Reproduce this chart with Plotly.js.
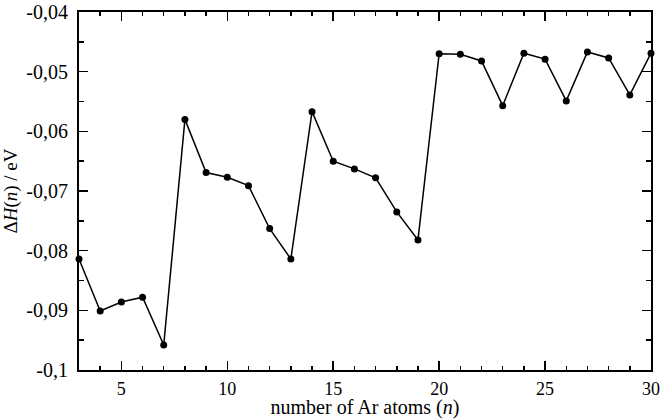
<!DOCTYPE html>
<html>
<head>
<meta charset="utf-8">
<script src="https://cdn.plot.ly/plotly-3.0.1.min.js"></script>
<style>html,body{margin:0;padding:0;background:#fff;}#chart{width:662px;height:419px;}</style>
</head>
<body>
<div id="chart"></div>
<script>
const nAtoms = [3,4,5,6,7,8,9,10,11,12,13,14,15,16,17,18,19,20,21,22,23,24,25,26,27,28,29,30];
const deltaH = [-0.0814,-0.0901,-0.0886,-0.0878,-0.0958,-0.0580,-0.0669,-0.0677,-0.0691,-0.0763,-0.0814,
                -0.0567,-0.0650,-0.0663,-0.0678,-0.0735,-0.0782,-0.0470,-0.0471,-0.0482,-0.0557,-0.0469,
                -0.0479,-0.0549,-0.0467,-0.0477,-0.0539,-0.0469];
const yTickVals = [-0.1,-0.09,-0.08,-0.07,-0.06,-0.05,-0.04];
const yTickText = ['-0,1','-0,09','-0,08','-0,07','-0,06','-0,05','-0,04'];
const xTickVals = [5,10,15,20,25,30];
const xTickText = ['5','10','15','20','25','30'];

const fam = 'Liberation Serif, Times New Roman, serif';
const font = {family: fam, size: 20, color: '#000'};
const xTickFont = {family: fam, size: 18, color: '#000'};
const yTitleFont = {family: fam, size: 19, color: '#000'};

const trace = {
  x: nAtoms, y: deltaH, type: 'scatter', mode: 'lines+markers',
  line: {color: '#000', width: 1.5},
  marker: {color: '#000', size: 7, symbol: 'circle'},
  cliponaxis: false, hoverinfo: 'none'
};

const layout = {
  width: 662, height: 419,
  margin: {l: 79, r: 11, t: 12, b: 49},
  paper_bgcolor: '#fff', plot_bgcolor: '#fff',
  font: font, showlegend: false,
  xaxis: {
    range: [3, 30], tickmode: 'array', tickvals: xTickVals, ticktext: xTickText,
    ticks: 'inside', ticklen: 9, tickwidth: 1.5, tickcolor: '#000',
    showline: true, linecolor: '#000', linewidth: 2, mirror: 'ticks',
    showgrid: false, zeroline: false,
    minor: {tickmode: 'linear', tick0: 3, dtick: 1, ticks: 'inside', ticklen: 4, tickwidth: 1.5, tickcolor: '#000', showgrid: false},
    tickfont: xTickFont, ticklabelstandoff: 1,
    title: {text: 'number of Ar atoms (<i>n</i>)', font: font, standoff: 1}
  },
  yaxis: {
    range: [-0.1, -0.04], tickmode: 'array', tickvals: yTickVals, ticktext: yTickText,
    ticks: 'inside', ticklen: 9, tickwidth: 1.5, tickcolor: '#000',
    showline: true, linecolor: '#000', linewidth: 2, mirror: 'ticks',
    showgrid: false, zeroline: false,
    minor: {tickmode: 'linear', tick0: -0.1, dtick: 0.005, ticks: 'inside', ticklen: 5, tickwidth: 1.5, tickcolor: '#000', showgrid: false},
    tickfont: font, ticklabelstandoff: 5,
    title: {text: 'Δ<i>H</i>(<i>n</i>) / eV', font: yTitleFont, standoff: 4}
  }
};

Plotly.newPlot('chart', [trace], layout, {staticPlot: true, displayModeBar: false});
</script>
</body>
</html>
